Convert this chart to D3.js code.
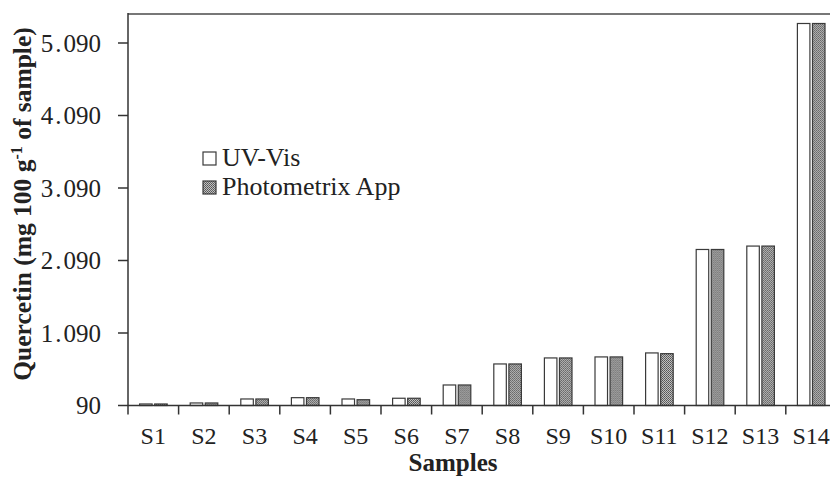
<!DOCTYPE html>
<html lang="en">
<head>
    <meta charset="UTF-8">
    <title>Quercetin</title>
    <script src="https://cdn.jsdelivr.net/npm/d3@7/dist/d3.min.js"></script>
    <style>
        body { margin: 0; background: #fff; }
        svg text { font-family: "Liberation Serif", "Times New Roman", serif; fill: #222; }
        .bar { stroke: #3a3a3a; stroke-width: 1.2; }
        .uv { fill: #fff; }
        .app { fill: url(#dots); }
    </style>
</head>
<body>
    <div class="chart"></div>
    <script>
    (function() {
    "use strict";

    var samples = ['S1','S2','S3','S4','S5','S6','S7','S8','S9','S10','S11','S12','S13','S14'];
    var uvVis = [111, 125, 180, 198, 180, 190, 373, 663, 746, 760, 815, 2242, 2289, 5359];
    var photometrix = [111, 125, 180, 198, 170, 190, 373, 663, 746, 760, 805, 2242, 2289, 5359];
    var yTicks = [90, 1090, 2090, 3090, 4090, 5090];
    var yTickLabels = ['90', '1.090', '2.090', '3.090', '4.090', '5.090'];
    var seriesNames = ['UV-Vis', 'Photometrix App'];

    var svg = d3.select('.chart').append('svg')
        .attr('width', 830)
        .attr('height', 484);

    // gray dotted fill for the app series
    var pat = svg.append('defs').append('pattern')
        .attr('id', 'dots')
        .attr('width', 2).attr('height', 2)
        .attr('patternUnits', 'userSpaceOnUse');
    pat.append('rect').attr('width', 2).attr('height', 2).attr('fill', '#c0c0c0');
    pat.append('rect').attr('width', 1).attr('height', 1).attr('fill', '#555');
    pat.append('rect').attr('x', 1).attr('y', 1).attr('width', 1).attr('height', 1).attr('fill', '#666');

    var pLeft = 128, pRight = 836.4, pTop = 14, pBottom = 405.5;

    var x = d3.scaleBand().domain(samples).range([pLeft, pRight]).padding(0);
    var x1 = d3.scaleBand().domain(seriesNames).range([11.6, 39.2]).paddingInner(0.17);
    var y = d3.scaleLinear().domain([90, 5490]).range([pBottom, pTop]);

    var rows = samples.map(function(s, i) {
        return { sample: s, values: [uvVis[i], photometrix[i]] };
    });

    var groups = svg.selectAll('g.grp').data(rows).enter().append('g')
        .attr('class', 'grp')
        .attr('transform', function(d) { return 'translate(' + x(d.sample) + ',0)'; });

    groups.selectAll('rect').data(function(d) {
            return d.values.map(function(v, j) { return { name: seriesNames[j], v: v, j: j }; });
        }).enter().append('rect')
        .attr('class', function(d) { return 'bar ' + (d.j === 0 ? 'uv' : 'app'); })
        .attr('x', function(d) { return x1(d.name); })
        .attr('width', x1.bandwidth())
        .attr('y', function(d) { return y(d.v); })
        .attr('height', function(d) { return pBottom - y(d.v); });

    // frame: top line
    svg.append('line')
        .attr('x1', pLeft).attr('x2', pRight).attr('y1', pTop).attr('y2', pTop)
        .attr('stroke', '#777').attr('stroke-width', 2);

    // y axis
    var yAxis = svg.append('g').attr('transform', 'translate(' + pLeft + ',0)');
    yAxis.append('line').attr('y1', pTop - 1).attr('y2', pBottom)
        .attr('stroke', '#333').attr('stroke-width', 1.5);
    yAxis.selectAll('line.tk').data(yTicks).enter().append('line')
        .attr('class', 'tk')
        .attr('x1', -10).attr('x2', 0)
        .attr('y1', function(d) { return y(d); }).attr('y2', function(d) { return y(d); })
        .attr('stroke', '#333').attr('stroke-width', 1.5);
    // labels: the period sits in a slightly wider gap in the original
    var yl = yAxis.selectAll('text').data(yTicks).enter().append('text')
        .attr('x', -27)
        .attr('y', function(d) { return y(d); })
        .attr('dy', '0.34em')
        .attr('text-anchor', 'end')
        .style('font-size', '25px');
    yl.each(function(d, i) {
        var parts = yTickLabels[i].split('.');
        var t = d3.select(this);
        if (parts.length === 1) { t.text(parts[0]); return; }
        t.append('tspan').text(parts[0]);
        t.append('tspan').attr('dx', 2).text('.');
        t.append('tspan').attr('dx', 2).text(parts[1]);
    });

    // x axis
    var xAxis = svg.append('g');
    xAxis.append('line').attr('x1', pLeft).attr('x2', pRight).attr('y1', pBottom).attr('y2', pBottom)
        .attr('stroke', '#333').attr('stroke-width', 1.5);
    var bounds = samples.map(function(s) { return x(s); }).concat([pRight]);
    xAxis.selectAll('line.tk').data(bounds).enter().append('line')
        .attr('class', 'tk')
        .attr('x1', function(d) { return d; }).attr('x2', function(d) { return d; })
        .attr('y1', pBottom).attr('y2', pBottom + 9)
        .attr('stroke', '#333').attr('stroke-width', 1.5);
    xAxis.selectAll('text').data(samples).enter().append('text')
        .attr('x', function(d) { return x(d) + x.bandwidth() / 2; })
        .attr('y', 444)
        .attr('text-anchor', 'middle')
        .style('font-size', '24px')
        .text(function(d) { return d; });

    // axis titles
    svg.append('text')
        .attr('x', 453).attr('y', 471)
        .attr('text-anchor', 'middle')
        .style('font-size', '25px').style('font-weight', 'bold')
        .text('Samples');

    var yt = svg.append('text')
        .attr('transform', 'translate(31,204) rotate(-90)')
        .attr('text-anchor', 'middle')
        .style('font-size', '25.5px').style('font-weight', 'bold');
    yt.append('tspan').text('Quercetin (mg 100 g');
    yt.append('tspan').attr('dy', -9).style('font-size', '16px').text('-1');
    yt.append('tspan').attr('dy', 9).text(' of sample)');

    // legend
    var legend = svg.append('g').attr('transform', 'translate(203,152)');
    var li = legend.selectAll('g').data(seriesNames).enter().append('g')
        .attr('transform', function(d, i) { return 'translate(0,' + (i * 29) + ')'; });
    li.append('rect')
        .attr('class', function(d, i) { return 'bar ' + (i === 0 ? 'uv' : 'app'); })
        .attr('width', 13).attr('height', 13);
    li.append('text')
        .attr('x', 19).attr('y', 14)
        .style('font-size', '26px')
        .text(function(d) { return d; });
    })();
    </script>
</body>
</html>
